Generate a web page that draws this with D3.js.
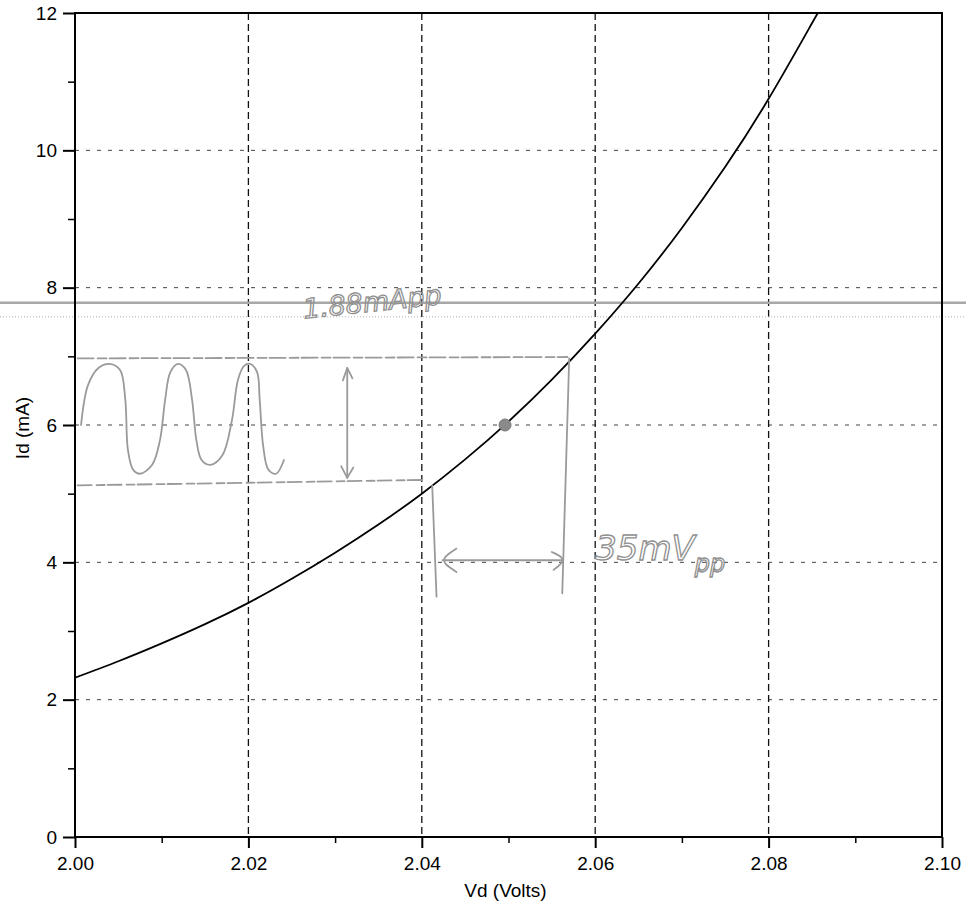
<!DOCTYPE html>
<html>
<head>
    <meta charset="UTF-8" />
    <title>Id vs Vd</title>
    <script src="https://cdn.jsdelivr.net/npm/d3@7/dist/d3.min.js"></script>
    <style>
        body { margin: 0; background: #fff; }
        svg { display: block; }
        .tick text { font-family: "Liberation Sans", Arial, sans-serif; font-size: 19px; fill: #000; }
        .axis-title { font-family: "Liberation Sans", Arial, sans-serif; font-size: 19px; fill: #000; }
        .pen { fill: none; stroke: #9a9a9a; stroke-width: 1.8; stroke-linecap: round; stroke-linejoin: round; }
        .pen-text { font-family: "DejaVu Sans", sans-serif; font-style: italic; fill: none; stroke: #8f8f8f; stroke-width: 1.3; }
    </style>
</head>
<body>
<div id="chart"></div>
<script type="text/javascript">
    /**
     * data
     */
    var vdVolts = [2.000, 2.005, 2.010, 2.015, 2.020, 2.025, 2.030, 2.035, 2.040, 2.045,
                   2.050, 2.055, 2.060, 2.065, 2.070, 2.075, 2.080, 2.085, 2.0857];
    var idMilliAmps = [2.32, 2.56, 2.82, 3.10, 3.41, 3.76, 4.14, 4.55, 5.00, 5.50,
                       6.05, 6.66, 7.33, 8.06, 8.87, 9.76, 10.75, 11.85, 12.0];

    var xTicks = [2.00, 2.02, 2.04, 2.06, 2.08, 2.10];
    var xMinorTicks = [2.01, 2.03, 2.05, 2.07, 2.09];
    var yTicks = [0, 2, 4, 6, 8, 10, 12];
    var yMinorTicks = [1, 3, 5, 7, 9, 11];
    var xGrid = [2.02, 2.04, 2.06, 2.08];
    var yGrid = [2, 4, 6, 8, 10];

    // operating point
    var qPoint = [2.0496, 6.0];

    // hand drawn annotations (data units)
    var waveV = [2.0007, 2.0015, 2.0027, 2.0040, 2.0052, 2.0058, 2.0061, 2.0067, 2.0075, 2.0089,
                 2.0098, 2.0104, 2.0110, 2.0119, 2.0128, 2.0135, 2.0140, 2.0146, 2.0156, 2.0170,
                 2.0181, 2.0188, 2.0195, 2.0202, 2.0210, 2.0213, 2.0217, 2.0223, 2.0232, 2.0241];
    var waveI = [6.00, 6.58, 6.83, 6.89, 6.80, 6.37, 5.64, 5.35, 5.29, 5.42,
                 5.78, 6.37, 6.77, 6.89, 6.80, 6.37, 5.78, 5.49, 5.42, 5.56,
                 6.07, 6.66, 6.86, 6.89, 6.77, 6.37, 5.70, 5.35, 5.29, 5.49];
    var swingTop = 6.97, swingBottom = 5.17;
    var swingLeftV = 2.0412, swingRightV = 2.0568;
    var ppArrowI = 4.03, ppArrowV = 2.0314;
    var scanLines = [7.78, 7.575];

    var width = 966, height = 905;
    var x = d3.scaleLinear().domain([2.0, 2.1]).range([75, 942]);
    var y = d3.scaleLinear().domain([0, 12]).range([837, 13]);

    var svg = d3.select("#chart").append("svg").attr("width", width).attr("height", height);

    /**
     * grid
     */
    svg.append("g").selectAll("line").data(yGrid).enter().append("line")
        .attr("x1", x(2.0)).attr("x2", x(2.1) - 4)
        .attr("y1", function (d) { return y(d); }).attr("y2", function (d) { return y(d); })
        .attr("stroke", "#444").attr("stroke-width", 1).attr("stroke-dasharray", "4,7");
    svg.append("g").selectAll("line").data(xGrid).enter().append("line")
        .attr("x1", function (d) { return x(d); }).attr("x2", function (d) { return x(d); })
        .attr("y1", y(12)).attr("y2", y(0))
        .attr("stroke", "#111").attr("stroke-width", 1.3).attr("stroke-dasharray", "7,4");

    // scanner lines across the page
    svg.append("line").attr("x1", 0).attr("x2", width).attr("y1", y(scanLines[0])).attr("y2", y(scanLines[0]))
        .attr("stroke", "#a8a8a8").attr("stroke-width", 2.5);
    svg.append("line").attr("x1", 0).attr("x2", width).attr("y1", y(scanLines[1])).attr("y2", y(scanLines[1]))
        .attr("stroke", "#b0b0b0").attr("stroke-width", 1).attr("stroke-dasharray", "1,2");

    /**
     * axes
     */
    svg.append("g").attr("transform", "translate(" + x(2.0) + ",0)")
        .call(d3.axisLeft(y).tickValues(yTicks).tickSize(12).tickPadding(6).tickFormat(d3.format("d")))
        .call(function (g) { g.select(".domain").remove(); g.selectAll("line").attr("stroke-width", 2); });
    svg.append("g").attr("transform", "translate(" + x(2.0) + ",0)")
        .call(d3.axisLeft(y).tickValues(yMinorTicks).tickSize(7).tickFormat(""))
        .call(function (g) { g.select(".domain").remove(); g.selectAll("line").attr("stroke-width", 1.5); });
    svg.append("g").attr("transform", "translate(0," + y(0) + ")")
        .call(d3.axisBottom(x).tickValues(xTicks).tickSize(11).tickPadding(9).tickFormat(d3.format(".2f")))
        .call(function (g) { g.select(".domain").remove(); g.selectAll("line").attr("stroke-width", 2); });
    svg.append("g").attr("transform", "translate(0," + y(0) + ")")
        .call(d3.axisBottom(x).tickValues(xMinorTicks).tickSize(6).tickFormat(""))
        .call(function (g) { g.select(".domain").remove(); g.selectAll("line").attr("stroke-width", 1.5); });

    svg.append("rect")
        .attr("x", x(2.0)).attr("y", y(12))
        .attr("width", x(2.1) - x(2.0)).attr("height", y(0) - y(12))
        .attr("fill", "none").attr("stroke", "#000").attr("stroke-width", 2);

    svg.append("text").attr("class", "axis-title")
        .attr("x", (x(2.0) + x(2.1)) / 2 - 3).attr("y", 897)
        .attr("text-anchor", "middle").text("Vd (Volts)");
    svg.append("text").attr("class", "axis-title")
        .attr("transform", "translate(29," + 428 + ") rotate(-90)")
        .attr("text-anchor", "middle").text("Id (mA)");

    /**
     * diode curve
     */
    svg.append("clipPath").attr("id", "plotClip").append("rect")
        .attr("x", x(2.0)).attr("y", y(12)).attr("width", x(2.1) - x(2.0)).attr("height", y(0) - y(12));

    var curve = d3.line()
        .x(function (d, i) { return x(vdVolts[i]); })
        .y(function (d, i) { return y(idMilliAmps[i]); })
        .curve(d3.curveNatural);
    svg.append("path").datum(vdVolts).attr("d", curve)
        .attr("clip-path", "url(#plotClip)")
        .attr("fill", "none").attr("stroke", "#000").attr("stroke-width", 1.8);

    /**
     * pencil notes
     */
    var pen = svg.append("g");
    var penLine = d3.line().x(function (d) { return x(d[0]); }).y(function (d) { return y(d[1]); });
    var penCurve = d3.line().x(function (d) { return x(d[0]); }).y(function (d) { return y(d[1]); }).curve(d3.curveBasis);

    var wave = d3.line()
        .x(function (d, i) { return x(waveV[i]); })
        .y(function (d, i) { return y(waveI[i]); })
        .curve(d3.curveCatmullRom);
    pen.append("path").datum(waveV).attr("class", "pen").attr("d", wave);

    // swing limits
    pen.append("path").attr("class", "pen").attr("stroke-dasharray", "16,4,9,3")
        .attr("d", penLine([[2.0003, swingTop], [swingRightV, swingTop + 0.02]]));
    pen.append("path").attr("class", "pen").attr("stroke-dasharray", "14,5,8,3")
        .attr("d", penLine([[2.0003, swingBottom - 0.05], [swingLeftV - 0.0008, swingBottom + 0.03]]));
    pen.append("path").attr("class", "pen")
        .attr("d", penLine([[swingLeftV, swingBottom - 0.05], [swingLeftV + 0.0005, 3.50]]));
    pen.append("path").attr("class", "pen")
        .attr("d", penLine([[swingRightV + 0.0002, swingTop], [swingRightV - 0.0006, 3.55]]));

    // current swing arrow
    pen.append("path").attr("class", "pen")
        .attr("d", penLine([[ppArrowV, 6.83], [ppArrowV, 5.23]]));
    pen.append("path").attr("class", "pen")
        .attr("d", penLine([[ppArrowV - 0.0005, 6.65], [ppArrowV, 6.83], [ppArrowV + 0.0006, 6.68]]));
    pen.append("path").attr("class", "pen")
        .attr("d", penLine([[ppArrowV - 0.0007, 5.40], [ppArrowV, 5.23], [ppArrowV + 0.0007, 5.38]]));

    // voltage swing arrow
    pen.append("path").attr("class", "pen")
        .attr("d", penLine([[2.0424, ppArrowI], [2.0562, ppArrowI]]));
    pen.append("path").attr("class", "pen")
        .attr("d", penCurve([[2.0440, ppArrowI + 0.17], [2.0425, ppArrowI + 0.05], [2.0425, ppArrowI - 0.05], [2.0440, ppArrowI - 0.17]]));
    pen.append("path").attr("class", "pen")
        .attr("d", penCurve([[2.0550, ppArrowI + 0.12], [2.0563, ppArrowI + 0.05], [2.0562, ppArrowI - 0.05], [2.0552, ppArrowI - 0.14]]));

    pen.append("text").attr("class", "pen-text")
        .attr("transform", "translate(" + x(2.0264) + "," + y(7.55) + ") rotate(-6)")
        .attr("font-size", 27).text("1.88mApp");

    var vpp = pen.append("text").attr("class", "pen-text")
        .attr("x", x(2.0600)).attr("y", y(4.03)).attr("font-size", 34);
    vpp.append("tspan").text("35mV");
    vpp.append("tspan").attr("dy", 12).attr("font-size", 24).text("pp");

    pen.append("circle").attr("cx", x(qPoint[0])).attr("cy", y(qPoint[1])).attr("r", 6)
        .attr("fill", "#8a8a8a").attr("stroke", "#777");
</script>
</body>
</html>
